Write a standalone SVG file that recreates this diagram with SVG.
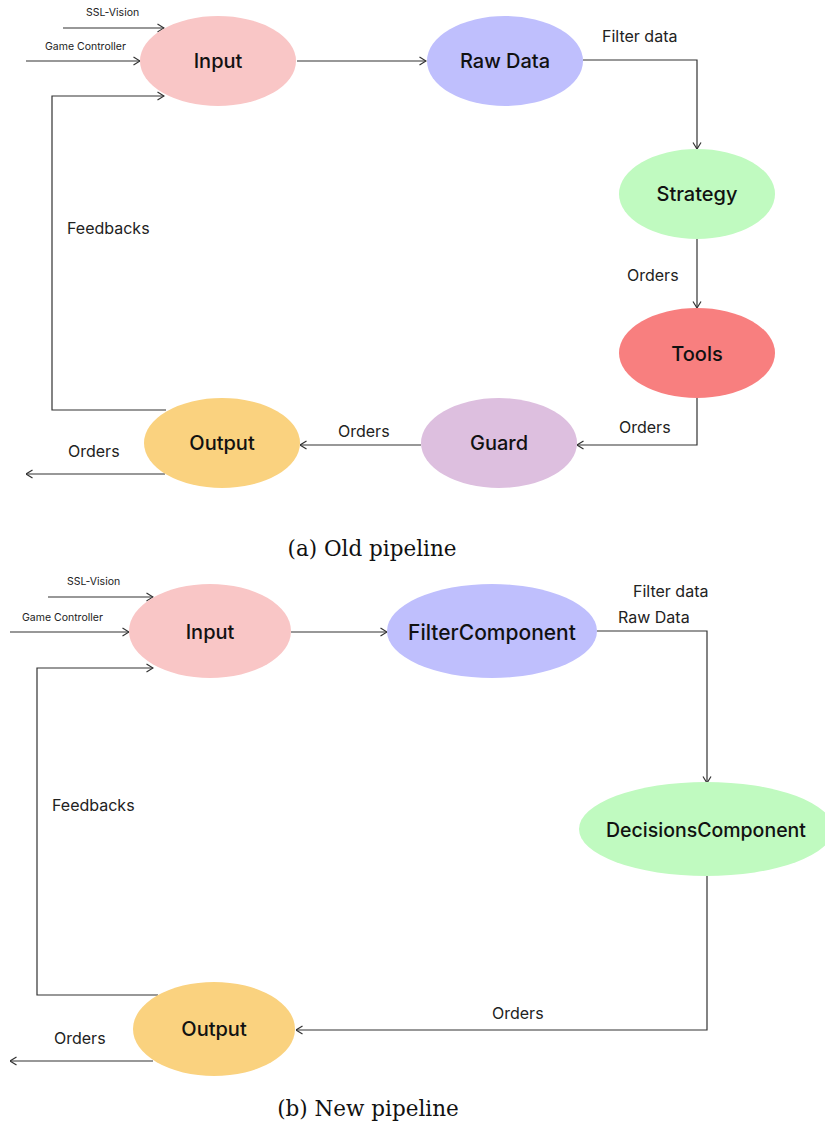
<svg xmlns="http://www.w3.org/2000/svg" width="825" height="1124" viewBox="0 0 825 1124">
<style>
.node text{font-family:Inter,"Liberation Sans",sans-serif;font-size:20px;font-weight:500;fill:#111;text-anchor:middle;dominant-baseline:central}
.lbl{font-family:Inter,"Liberation Sans",sans-serif;font-size:16px;fill:#222}
.sm{font-family:Inter,"Liberation Sans",sans-serif;font-size:10.5px;fill:#222}
.cap{font-family:"DejaVu Serif","Liberation Serif",serif;font-size:21.5px;fill:#111;text-anchor:middle}
#edges path{fill:none;stroke:#333;stroke-width:1.2}
.ar{marker-end:url(#arr)}
</style>
<defs>
<marker id="arr" viewBox="0 0 8 10" refX="7.5" refY="5" markerWidth="8" markerHeight="10" markerUnits="userSpaceOnUse" orient="auto">
<path d="M1,1 L7.5,5 L1,9" fill="none" stroke="#333" stroke-width="1.2"/>
</marker>
</defs>
<rect width="825" height="1124" fill="#fff"/>

<g id="edges">
<path class="ar" d="M63,28 H164"/>
<path class="ar" d="M26,61 H140"/>
<path class="ar" d="M166,410 H52 V96 H164"/>
<path class="ar" d="M297,61 H426"/>
<path class="ar" d="M583,60 H697 V149"/>
<path class="ar" d="M697,239 V308"/>
<path class="ar" d="M697,398 V445 H577"/>
<path class="ar" d="M421,445 H300"/>
<path class="ar" d="M165,474 H26"/>

<path class="ar" d="M48,597 H153"/>
<path class="ar" d="M10,632 H129"/>
<path class="ar" d="M158,995 H37 V668 H153"/>
<path class="ar" d="M291,632 H387"/>
<path class="ar" d="M597,631 H707 V783"/>
<path class="ar" d="M707,876 V1030 H296"/>
<path class="ar" d="M153,1061 H10"/>
</g>

<g id="edge-labels">
<text class="sm" x="86" y="16">SSL-Vision</text>
<text class="sm" x="45" y="50">Game Controller</text>
<text class="lbl" x="67" y="234">Feedbacks</text>
<text class="lbl" x="602" y="42">Filter data</text>
<text class="lbl" x="627" y="281">Orders</text>
<text class="lbl" x="619" y="433">Orders</text>
<text class="lbl" x="338" y="437">Orders</text>
<text class="lbl" x="68" y="457">Orders</text>

<text class="sm" x="67" y="585">SSL-Vision</text>
<text class="sm" x="22" y="621">Game Controller</text>
<text class="lbl" x="52" y="811">Feedbacks</text>
<text class="lbl" x="633" y="597">Filter data</text>
<text class="lbl" x="618" y="623">Raw Data</text>
<text class="lbl" x="492" y="1019">Orders</text>
<text class="lbl" x="54" y="1044">Orders</text>
</g>

<g id="input-a" class="node"><ellipse cx="218" cy="61" rx="78" ry="45" fill="#F9C6C6"/><text x="218" y="61">Input</text></g>
<g id="rawdata-a" class="node"><ellipse cx="505" cy="61" rx="78" ry="45" fill="#BFBFFD"/><text x="505" y="61">Raw Data</text></g>
<g id="strategy-a" class="node"><ellipse cx="697" cy="194" rx="78" ry="45" fill="#C0FAC0"/><text x="697" y="194">Strategy</text></g>
<g id="tools-a" class="node"><ellipse cx="697" cy="353" rx="78" ry="45" fill="#F87F7F"/><text x="697" y="354">Tools</text></g>
<g id="guard-a" class="node"><ellipse cx="499" cy="443" rx="78" ry="45" fill="#DDBFDF"/><text x="499" y="443">Guard</text></g>
<g id="output-a" class="node"><ellipse cx="222" cy="443" rx="78" ry="45" fill="#FAD27F"/><text x="222" y="443">Output</text></g>

<g id="input-b" class="node"><ellipse cx="210" cy="631" rx="81" ry="47" fill="#F9C6C6"/><text x="210" y="632">Input</text></g>
<g id="filter-b" class="node"><ellipse cx="492" cy="631" rx="105" ry="47" fill="#BFBFFD"/><text x="492" y="632" style="font-size:21px">FilterComponent</text></g>
<g id="decisions-b" class="node"><ellipse cx="706" cy="829" rx="127" ry="47" fill="#C0FAC0"/><text x="706" y="830" style="font-size:19.5px">DecisionsComponent</text></g>
<g id="output-b" class="node"><ellipse cx="214" cy="1029" rx="81" ry="47" fill="#FAD27F"/><text x="214" y="1029">Output</text></g>

<text class="cap" x="372" y="556">(a) Old pipeline</text>
<text class="cap" x="368" y="1116">(b) New pipeline</text>
</svg>
